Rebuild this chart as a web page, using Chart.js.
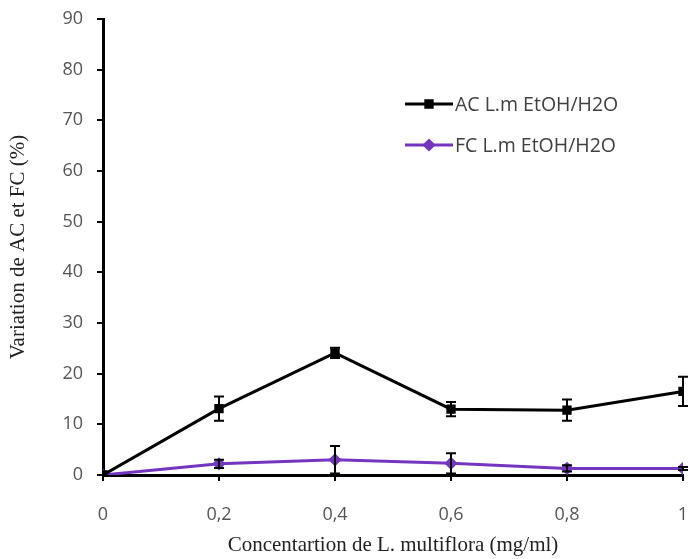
<!DOCTYPE html>
<html lang="fr">
<head>
  <meta charset="UTF-8">
  <title>Variation de AC et FC</title>
  <style>
    body { margin: 0; background: #fff; }
    .chart-container { width: 696px; height: 559px; }
  </style>
  <script src="https://cdn.jsdelivr.net/npm/chart.js"></script>
</head>
<body>
  <div class="chart-container">
    <canvas id="chart"></canvas>
  </div>

  <script>
    // concentrations (mg/ml)
    const concentrations = [0, 0.2, 0.4, 0.6, 0.8, 1];
    const acValues = [0, 13.1, 24.1, 13.0, 12.8, 16.5];
    const acErrors = [0, 2.4, 1.0, 1.4, 2.1, 2.9];
    const fcValues = [0, 2.2, 3.0, 2.3, 1.3, 1.3];
    const fcErrors = [0, 0.8, 2.7, 2.0, 0.6, 0.3];
    const acLabel = 'AC L.m EtOH/H2O';
    const fcLabel = 'FC L.m EtOH/H2O';
    const purple = '#7436c0';

    const toPoints = (vals) => concentrations.map((x, i) => ({ x: x, y: vals[i] }));

    // barres d'erreur (pas dispo dans Chart.js)
    const errorBars = {
      id: 'errorBars',
      afterDatasetsDraw(chart) {
        const ctx = chart.ctx;
        const xs = chart.scales.x, ys = chart.scales.y;
        chart.data.datasets.forEach((ds) => {
          if (!ds.errors) return;
          ctx.save();
          ctx.strokeStyle = '#000';
          ctx.lineWidth = 2;
          ds.data.forEach((p, i) => {
            const e = ds.errors[i];
            if (!e) return;
            const px = xs.getPixelForValue(p.x);
            const top = ys.getPixelForValue(p.y + e);
            const bot = ys.getPixelForValue(p.y - e);
            ctx.beginPath();
            ctx.moveTo(px, top); ctx.lineTo(px, bot);
            ctx.moveTo(px - 5, top); ctx.lineTo(px + 5, top);
            ctx.moveTo(px - 5, bot); ctx.lineTo(px + 5, bot);
            ctx.stroke();
          });
          ctx.restore();
        });
      }
    };

    // légende dans la zone du graphique
    const innerLegend = {
      id: 'innerLegend',
      afterDraw(chart) {
        const ctx = chart.ctx;
        const items = [
          { label: acLabel, color: '#000', style: 'rect', y: 104 },
          { label: fcLabel, color: purple, style: 'rectRot', y: 145 }
        ];
        ctx.save();
        items.forEach((it) => {
          ctx.strokeStyle = it.color;
          ctx.lineWidth = 3;
          ctx.beginPath();
          ctx.moveTo(405, it.y); ctx.lineTo(453, it.y);
          ctx.stroke();
          ctx.fillStyle = it.color;
          Chart.helpers.drawPoint(ctx, { pointStyle: it.style, radius: 4.5, borderWidth: 1 }, 429, it.y);
          ctx.fill();
          ctx.fillStyle = '#404040';
          ctx.font = '19.5px "Open Sans", sans-serif';
          ctx.textBaseline = 'middle';
          ctx.fillText(it.label, 455, it.y + 1);
        });
        ctx.restore();
      }
    };

    const ctx = document.getElementById('chart').getContext('2d');
    const chart = new Chart(ctx, {
      type: 'line',
      data: {
        datasets: [
          {
            label: acLabel,
            data: toPoints(acValues),
            errors: acErrors,
            borderColor: '#000',
            backgroundColor: '#000',
            borderWidth: 3,
            pointStyle: 'rect',
            pointRadius: 4.5,
            tension: 0
          },
          {
            label: fcLabel,
            data: toPoints(fcValues),
            errors: fcErrors,
            borderColor: purple,
            backgroundColor: purple,
            borderWidth: 3,
            pointStyle: 'rectRot',
            pointRadius: 4.5,
            tension: 0
          }
        ]
      },
      options: {
        responsive: true,
        maintainAspectRatio: false,
        animation: false,
        layout: { padding: { top: 19, right: 13, left: 0, bottom: 0 } },
        plugins: {
          legend: { display: false },
          tooltip: { enabled: false }
        },
        scales: {
          x: {
            type: 'linear',
            min: 0,
            max: 1,
            afterFit: (s) => { s.height = 84; s.paddingLeft = 0; s.paddingRight = 0; },
            ticks: {
              stepSize: 0.2,
              padding: 23,
              color: '#555',
              font: { family: '"Open Sans", sans-serif', size: 18 },
              callback: (v) => String(Math.round(v * 10) / 10).replace('.', ',')
            },
            grid: { drawOnChartArea: false, color: '#000', lineWidth: 2, tickLength: 6 },
            border: { color: '#000', width: 3 },
            title: {
              display: true,
              text: 'Concentartion de L. multiflora (mg/ml)',
              color: '#222',
              font: { family: '"Liberation Serif", serif', size: 21 },
              padding: { top: 0, bottom: 1 }
            }
          },
          y: {
            min: 0,
            max: 90,
            afterFit: (s) => { s.width = 103; s.paddingTop = 0; s.paddingBottom = 0; },
            ticks: {
              stepSize: 10,
              padding: 14,
              color: '#555',
              font: { family: '"Open Sans", sans-serif', size: 18 }
            },
            grid: { drawOnChartArea: false, color: '#000', lineWidth: 2, tickLength: 6 },
            border: { color: '#000', width: 3 },
            title: {
              display: true,
              text: 'Variation de AC et FC (%)',
              color: '#222',
              font: { family: '"Liberation Serif", serif', size: 21 },
              padding: { top: 6, bottom: 0 }
            }
          }
        }
      },
      plugins: [errorBars, innerLegend]
    });
  </script>
</body>
</html>
